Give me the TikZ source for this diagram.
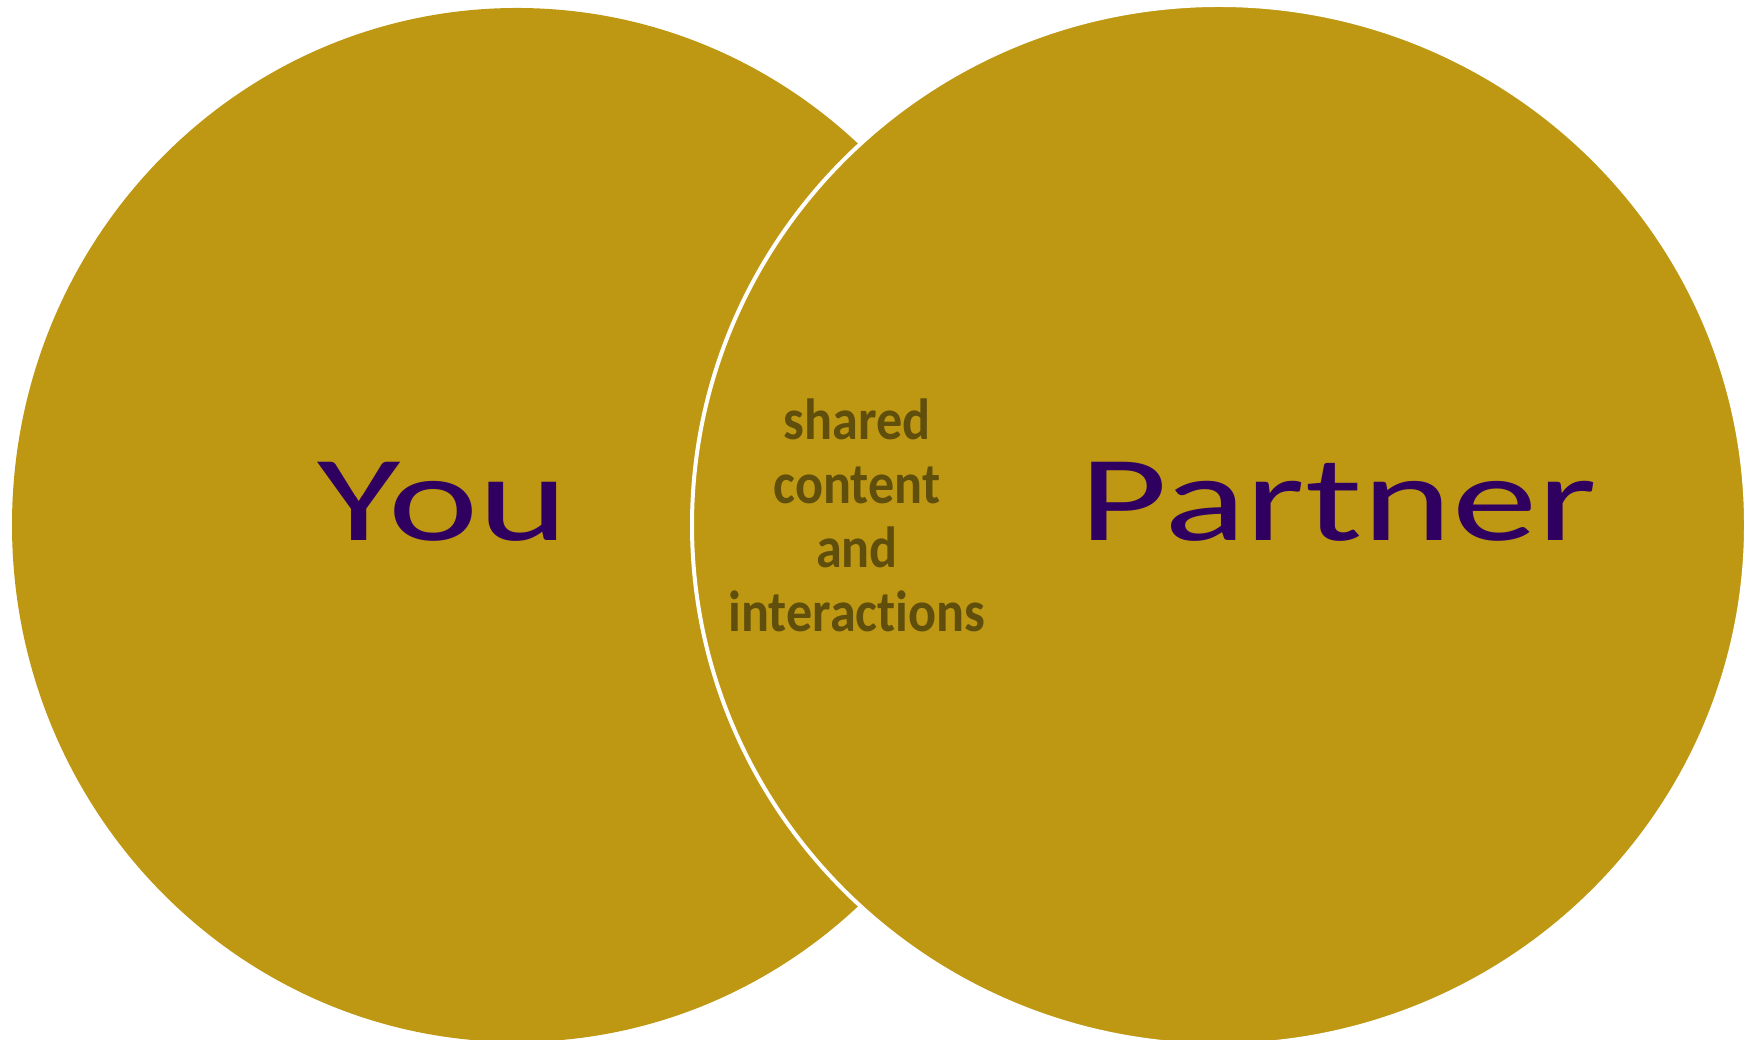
\documentclass[tikz,border=0pt]{standalone}
\usepackage{fontspec}
\setmainfont{Carlito}
\newfontfamily\widefont[FakeStretch=1.40]{Carlito}
\newfontfamily\narrowfont[FakeStretch=0.9,Ligatures={NoCommon,NoRare,NoContextual}]{Carlito}
\definecolor{gold}{RGB}{190,152,19}
\definecolor{deeppurple}{RGB}{48,0,96}
\definecolor{olivetext}{RGB}{96,78,12}
\tikzset{
  setbig/.style={fill=gold},
  bigword/.style={anchor=base, inner sep=0pt, text=deeppurple, font=\widefont\fontsize{122}{140}\selectfont},
  midword/.style={anchor=center, inner sep=0pt, align=center, text=olivetext, font=\narrowfont\bfseries\fontsize{58}{64}\selectfont}
}
\begin{document}
\begin{tikzpicture}[x=1pt,y=1pt]
\useasboundingbox (0,0) rectangle (1756,1040);
\begin{scope}
\clip (0,0) rectangle (1756,1040);
\path[setbig] (517,515) ellipse [x radius=505, y radius=517];
\path[setbig, draw=white, line width=4pt] (1219,515) ellipse [x radius=527, y radius=520];
\end{scope}
\node[bigword] (you) at (443,499) {You};
\node[bigword] (partner) at (1338,499) {Partner};
\node[midword] (shared) at (857,525) {shared\\content\\and\\interactions};
\end{tikzpicture}
\end{document}
